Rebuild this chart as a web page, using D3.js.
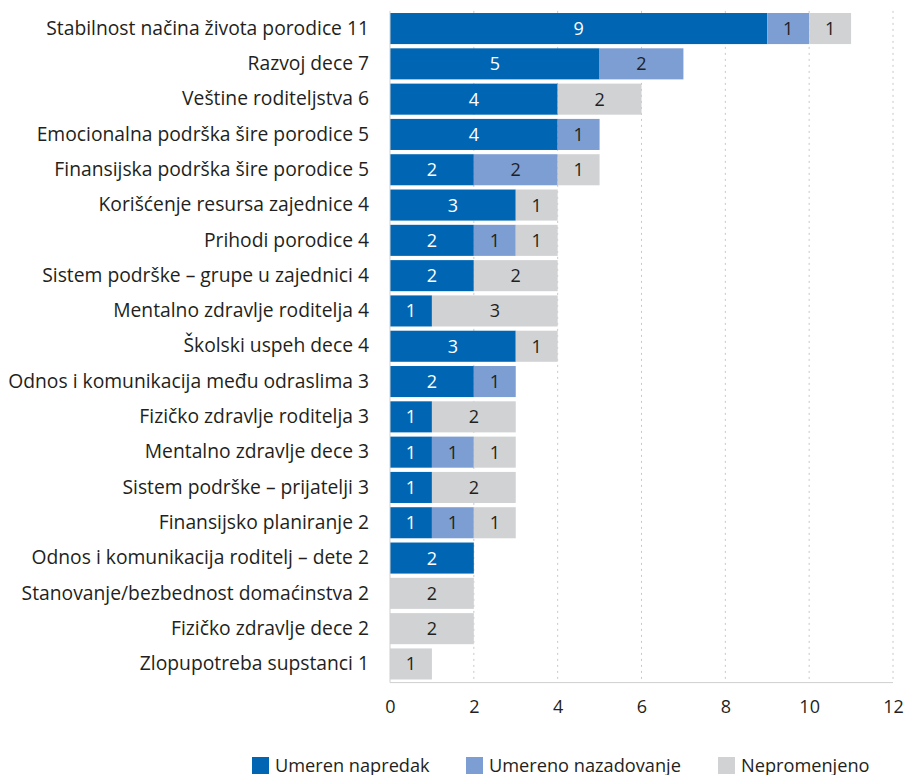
<!DOCTYPE html>
<html>
<head>
<meta charset="utf-8">
<script src="https://cdn.jsdelivr.net/npm/d3@7"></script>
<style>
  body { margin: 0; background: #fff; }
  text { font-family: "Open Sans", sans-serif; }
</style>
</head>
<body>
<div id="grafico"></div>
<script>
var kategorije = [
  "Stabilnost načina života porodice 11",
  "Razvoj dece 7",
  "Veštine roditeljstva 6",
  "Emocionalna podrška šire porodice 5",
  "Finansijska podrška šire porodice 5",
  "Korišćenje resursa zajednice 4",
  "Prihodi porodice 4",
  "Sistem podrške – grupe u zajednici 4",
  "Mentalno zdravlje roditelja 4",
  "Školski uspeh dece 4",
  "Odnos i komunikacija među odraslima 3",
  "Fizičko zdravlje roditelja 3",
  "Mentalno zdravlje dece 3",
  "Sistem podrške – prijatelji 3",
  "Finansijsko planiranje 2",
  "Odnos i komunikacija roditelj – dete 2",
  "Stanovanje/bezbednost domaćinstva 2",
  "Fizičko zdravlje dece 2",
  "Zlopupotreba supstanci 1"
];
var serije = ["Umeren napredak", "Umereno nazadovanje", "Nepromenjeno"];
var napredak   = [9, 5, 4, 4, 2, 3, 2, 2, 1, 3, 2, 1, 1, 1, 1, 2, 0, 0, 0];
var nazadovanje = [1, 2, 0, 1, 2, 0, 1, 0, 0, 0, 1, 0, 1, 0, 1, 0, 0, 0, 0];
var nepromenjeno = [1, 0, 2, 0, 1, 1, 1, 2, 3, 1, 0, 2, 1, 2, 1, 0, 2, 2, 1];
var xTicks = [0, 2, 4, 6, 8, 10, 12];

var boje = ["#0066b3", "#7c9ed2", "#d1d2d4"];
var bojeTeksta = ["#ffffff", "#231f20", "#231f20"];

var svgWidth = 905;
var svgHeight = 775;

var svg = d3.select("#grafico")
  .append("svg")
  .attr("width", svgWidth)
  .attr("height", svgHeight);

var xLeft = 390, xRight = 893, yTop = 10.9, yBottom = 681.6;

var xScale = d3.scaleLinear()
  .domain([0, 12])
  .range([xLeft, xRight]);

var yScale = d3.scaleBand()
  .domain(kategorije)
  .range([yTop, yBottom])
  .paddingInner(0.12)
  .paddingOuter(0.06);

// tabela za stack
var tabela = kategorije.map(function (k, i) {
  return { kategorija: k, s0: napredak[i], s1: nazadovanje[i], s2: nepromenjeno[i] };
});
var stack = d3.stack().keys(["s0", "s1", "s2"]);
var slojevi = stack(tabela);

// mreza
svg.append("g")
  .selectAll("line")
  .data(xTicks.slice(1))
  .enter()
  .append("line")
  .attr("x1", d => xScale(d))
  .attr("x2", d => xScale(d))
  .attr("y1", yTop)
  .attr("y2", yBottom)
  .attr("stroke", "#c8c8c8")
  .attr("stroke-width", 1)
  .attr("stroke-dasharray", "2,4");

// trake
var grupe = svg.selectAll(".sloj")
  .data(slojevi)
  .enter()
  .append("g")
  .attr("class", "sloj");

grupe.selectAll("rect")
  .data(d => d.map(function (p) { return { p: p, s: d.index }; }))
  .enter()
  .append("rect")
  .attr("x", d => xScale(d.p[0]))
  .attr("y", d => yScale(d.p.data.kategorija))
  .attr("width", d => xScale(d.p[1]) - xScale(d.p[0]))
  .attr("height", yScale.bandwidth())
  .attr("fill", d => boje[d.s]);

grupe.selectAll("text")
  .data(d => d.map(function (p) { return { p: p, s: d.index }; }).filter(d => d.p[1] - d.p[0] > 0))
  .enter()
  .append("text")
  .attr("x", d => (xScale(d.p[0]) + xScale(d.p[1])) / 2)
  .attr("y", d => yScale(d.p.data.kategorija) + yScale.bandwidth() / 2)
  .attr("dy", "0.36em")
  .attr("text-anchor", "middle")
  .attr("font-size", 18)
  .attr("fill", d => bojeTeksta[d.s])
  .text(d => d.p[1] - d.p[0]);

// ose
var yAxis = d3.axisLeft(yScale).tickSize(0).tickPadding(21);
var gy = svg.append("g")
  .attr("transform", "translate(" + xLeft + ",0)")
  .call(yAxis);
gy.select(".domain").attr("stroke", "#cfcfcf").attr("d", "M0," + yTop + "V" + (yBottom + 1));
gy.selectAll("text").attr("font-size", 19.3).attr("fill", "#231f20")
  .attr("font-family", "'Open Sans', sans-serif");

var xAxis = d3.axisBottom(xScale).tickValues(xTicks).tickSize(0).tickPadding(18);
var gx = svg.append("g")
  .attr("transform", "translate(0," + (yBottom + 1) + ")")
  .call(xAxis);
gx.select(".domain").attr("stroke", "#cfcfcf").attr("d", "M" + xLeft + ",0H" + xRight);
gx.selectAll("text").attr("font-size", 18).attr("fill", "#231f20")
  .attr("font-family", "'Open Sans', sans-serif");

// legenda
var legendaX = [252, 466, 718];
var legenda = svg.append("g")
  .selectAll("g")
  .data(serije)
  .enter()
  .append("g")
  .attr("transform", (d, i) => "translate(" + legendaX[i] + ",757)");
legenda.append("rect")
  .attr("width", 17)
  .attr("height", 17)
  .attr("fill", (d, i) => boje[i]);
legenda.append("text")
  .attr("x", 23)
  .attr("y", 8)
  .attr("dy", "0.36em")
  .attr("font-size", 18.2)
  .attr("fill", "#231f20")
  .text(d => d);
</script>
</body>
</html>
